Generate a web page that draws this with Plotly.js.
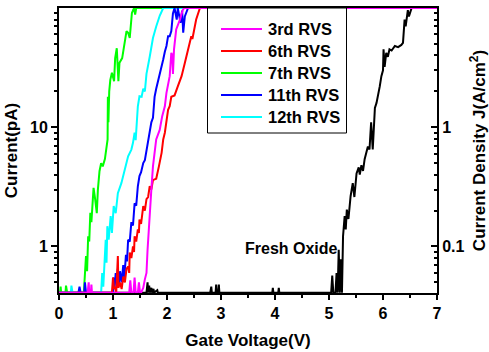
<!DOCTYPE html>
<html>
<head>
<meta charset="utf-8">
<script src="https://cdn.plot.ly/plotly-3.0.1.min.js"></script>
<style>html,body{margin:0;padding:0;background:#fff;}#chart{width:489px;height:352px;}</style>
</head>
<body>
<div id="chart"></div>
<script>
// Gate voltage (V) and current (pA)
const freshX = [0, 1.62, 1.64, 1.65, 1.67, 1.68, 1.71, 1.72, 1.75, 1.76, 1.82, 1.83, 2.80, 2.82, 2.83, 2.90, 2.91, 2.92, 2.95, 2.96, 2.97, 3.95, 3.96, 3.97, 4.06, 4.07, 4.08, 5.04, 5.06, 5.08, 5.12, 5.14, 5.16, 5.18, 5.20, 5.22, 5.24, 5.26, 5.29, 5.31, 5.33, 5.36, 5.40, 5.44, 5.47, 5.51, 5.55, 5.57, 5.60, 5.63, 5.66, 5.72, 5.75, 5.78, 5.81, 5.85, 5.88, 5.91, 5.94, 5.97, 6.00, 6.01, 6.03, 6.06, 6.09, 6.12, 6.16, 6.22, 6.28, 6.34, 6.37, 6.40, 6.42, 6.46, 6.48, 6.53, 7];
const freshY = [0.41, 0.41, 0.50, 0.41, 0.47, 0.41, 0.45, 0.41, 0.44, 0.41, 0.43, 0.41, 0.41, 0.46, 0.41, 0.41, 0.48, 0.41, 0.41, 0.48, 0.41, 0.41, 0.45, 0.41, 0.41, 0.45, 0.41, 0.41, 0.57, 0.41, 0.41, 0.60, 0.41, 0.94, 0.41, 0.78, 0.41, 1.22, 1.8, 1.39, 2.04, 1.7, 2.64, 3.4, 2.6, 4.1, 4.6, 4.0, 4.8, 4.3, 5.4, 6.9, 6.5, 11, 6.5, 14.5, 16, 18.5, 22, 26.8, 30, 45, 32, 42, 39, 45, 44, 48, 47, 49, 51, 80, 70, 96, 85, 100, 100];

const rvs7X = [0, 0.02, 0.03, 0.04, 0.12, 0.13, 0.14, 0.15, 0.46, 0.48, 0.50, 0.52, 0.54, 0.56, 0.58, 0.60, 0.62, 0.64, 0.67, 0.70, 0.72, 0.75, 0.78, 0.81, 0.85, 0.88, 0.90, 0.905, 0.915, 0.93, 0.95, 0.98, 1.02, 1.04, 1.07, 1.10, 1.12, 1.17, 1.22, 1.25, 1.28, 1.31, 1.35, 1.39, 1.41, 1.43, 7];
const rvs7Y = [0.41, 0.41, 0.46, 0.41, 0.41, 0.47, 0.44, 0.41, 0.41, 0.55, 0.83, 0.62, 1.22, 1.1, 1.92, 1.6, 2.64, 3.1, 2.48, 1.9, 3.0, 4.28, 5.0, 4.7, 5.4, 6.7, 7.9, 18, 11, 20, 25, 28.6, 24.3, 38, 46, 24.3, 34.7, 38, 51, 64, 62, 56, 91, 100, 88, 100, 100];

const rvs12X = [0, 0.22, 0.23, 0.24, 0.25, 0.78, 0.80, 0.82, 0.85, 0.865, 0.88, 0.895, 0.92, 0.957, 0.98, 1.013, 1.05, 1.09, 1.155, 1.217, 1.28, 1.34, 1.37, 1.40, 1.42, 1.46, 1.49, 1.53, 1.56, 1.59, 1.62, 1.68, 1.74, 1.80, 1.865, 1.93, 7];
const rvs12Y = [0.41, 0.41, 0.47, 0.44, 0.41, 0.41, 0.6, 0.46, 0.94, 1.14, 0.73, 1.48, 1.14, 1.8, 1.3, 2.18, 1.9, 2.8, 3.4, 4.4, 5.7, 6.5, 7.4, 9.0, 7.8, 15, 18.2, 18, 21, 20, 28, 39, 56, 70, 86, 100, 100];

const rvs11X = [0, 0.36, 0.38, 0.40, 0.47, 0.48, 0.50, 0.98, 1.00, 1.01, 1.03, 1.05, 1.07, 1.09, 1.11, 1.13, 1.16, 1.19, 1.21, 1.24, 1.26, 1.28, 1.31, 1.34, 1.37, 1.40, 1.43, 1.46, 1.49, 1.52, 1.56, 1.59, 1.62, 1.65, 1.68, 1.71, 1.74, 1.77, 1.80, 1.83, 1.87, 1.90, 1.93, 1.96, 1.99, 2.02, 2.05, 2.08, 2.11, 2.14, 2.18, 2.20, 2.25, 2.28, 2.30, 2.33, 2.39, 7];
const rvs11Y = [0.41, 0.41, 0.46, 0.41, 0.41, 0.50, 0.41, 0.41, 0.41, 0.55, 0.45, 0.60, 0.50, 0.65, 0.48, 0.62, 0.50, 0.70, 0.55, 0.85, 0.75, 1.14, 1.1, 1.6, 1.5, 2.3, 2.2, 3.2, 3.9, 4.2, 5.0, 5.3, 6.5, 7.6, 9.8, 11, 12, 18, 21, 24, 27, 31, 37, 43, 48, 58, 58, 64, 90, 100, 80, 100, 75, 95, 62, 85, 100, 100];

const rvs6X = [0, 0.98, 1.00, 1.02, 1.03, 1.06, 1.09, 1.10, 1.13, 1.16, 1.19, 1.22, 1.25, 1.28, 1.30, 1.31, 1.34, 1.37, 1.39, 1.40, 1.43, 1.46, 1.48, 1.49, 1.52, 1.56, 1.59, 1.62, 1.65, 1.68, 1.71, 1.74, 1.77, 1.80, 1.85, 1.90, 1.93, 1.96, 2.02, 2.05, 2.08, 2.14, 2.20, 2.27, 2.33, 2.39, 2.45, 2.47, 2.54, 2.61, 7];
const rvs6Y = [0.41, 0.41, 0.55, 0.44, 0.46, 0.41, 0.83, 0.45, 0.50, 0.44, 0.56, 0.50, 0.65, 0.68, 0.60, 0.89, 0.80, 1.0, 0.9, 1.22, 1.1, 1.39, 1.3, 1.68, 1.55, 2.18, 2.0, 2.5, 2.6, 3.2, 3.0, 3.6, 3.65, 3.7, 4.7, 6.1, 7.9, 9.0, 14, 15, 18, 18.5, 22, 26.8, 34.6, 45, 58, 55, 80, 100, 100];

const rvs3X = [0, 0.53, 0.55, 0.56, 0.59, 0.60, 0.61, 1.30, 1.32, 1.34, 1.38, 1.40, 1.42, 1.46, 1.48, 1.50, 1.52, 1.56, 1.59, 1.62, 1.64, 1.66, 1.68, 1.71, 1.74, 1.77, 1.80, 1.865, 1.91, 1.96, 1.99, 2.05, 2.08, 2.10, 2.11, 2.13, 2.14, 2.17, 2.24, 2.29, 2.32, 7];
const rvs3Y = [0.41, 0.41, 0.50, 0.41, 0.41, 0.48, 0.41, 0.41, 0.52, 0.41, 0.41, 0.55, 0.41, 0.41, 0.50, 0.41, 0.41, 0.45, 0.53, 0.60, 0.94, 1.39, 2.0, 3.0, 4.7, 6.1, 7.9, 9.5, 12.3, 15, 19.4, 26.8, 42, 40, 28, 45, 51, 66, 80, 96, 100, 100];

const seriesNames = ['3rd RVS', '6th RVS', '7th RVS', '11th RVS', '12th RVS'];
const seriesColors = ['#ff00ff', '#ff0000', '#00ff00', '#0000ff', '#00ffff'];
const xTickVals = [0, 1, 2, 3, 4, 5, 6, 7];
const xMinorVals = [0.5, 1.5, 2.5, 3.5, 4.5, 5.5, 6.5];
const yTickVals = [1, 10];
const yMinorVals = [0.4, 0.5, 0.6, 0.7, 0.8, 0.9, 2, 3, 4, 5, 6, 7, 8, 9, 20, 30, 40, 50, 60, 70, 80, 90];
const y2TickVals = [0.1, 1];
const y2MinorVals = [0.04, 0.05, 0.06, 0.07, 0.08, 0.09, 0.2, 0.3, 0.4, 0.5, 0.6, 0.7, 0.8, 0.9, 2, 3, 4, 5, 6, 7, 8, 9];

const FONT = 'Liberation Sans, Arial, sans-serif';
const lw = 2;

const W = 489, H = 352, ML = 59, MR = 52, MT = 8, MB = 59;
const PW = W - ML - MR, PH = H - MT - MB;
const px2x = p => (p - ML) / PW;
const py2y = p => (H - MB - p) / PH;

function tr(x, y, idx) {
  return {x: x, y: y, type: 'scatter', mode: 'lines', name: seriesNames[idx],
    line: {color: seriesColors[idx], width: lw}, showlegend: false, hoverinfo: 'skip'};
}

const traces = [
  {x: freshX, y: freshY, type: 'scatter', mode: 'lines', line: {color: '#000', width: lw}, showlegend: false, hoverinfo: 'skip'},
  tr(rvs7X, rvs7Y, 2),
  tr(rvs12X, rvs12Y, 4),
  tr(rvs11X, rvs11Y, 3),
  tr(rvs6X, rvs6Y, 1),
  tr(rvs3X, rvs3Y, 0),
  {x: [0], y: [0.1], yaxis: 'y2', type: 'scatter', mode: 'lines', showlegend: false, hoverinfo: 'skip', line: {width: 0}}
];

// Legend drawn as a box, line samples and labels
const shapes = [{type: 'rect', xref: 'paper', yref: 'paper', x0: px2x(207.5), x1: px2x(346.5), y0: py2y(133), y1: py2y(8),
  line: {color: '#000', width: 1}, fillcolor: '#fff', layer: 'above'}];
const annotations = [];
seriesNames.forEach((nm, i) => {
  const rowY = py2y(29 + 22 * i);
  shapes.push({type: 'line', xref: 'paper', yref: 'paper', x0: px2x(221), x1: px2x(262), y0: rowY, y1: rowY,
    line: {color: seriesColors[i], width: 2}, layer: 'above'});
  annotations.push({xref: 'paper', yref: 'paper', x: px2x(265.5), y: rowY, text: nm, showarrow: false,
    xanchor: 'left', yanchor: 'middle', font: {family: FONT, size: 16.5, weight: 'bold', color: '#000'}});
});
annotations.push({x: 3.40, y: -0.02, xref: 'x', yref: 'y', text: 'Fresh Oxide', showarrow: false, xanchor: 'left', yanchor: 'middle',
  font: {family: FONT, size: 16, weight: 'bold', color: '#000'}});

const tickFont = {family: FONT, size: 16, weight: 'bold', color: '#000'};
const titleFont = {family: FONT, size: 17, weight: 'bold', color: '#000'};

const layout = {
  width: W, height: H,
  margin: {l: ML, r: MR, t: MT, b: MB},
  paper_bgcolor: '#fff', plot_bgcolor: '#fff',
  showlegend: false,
  xaxis: {range: [0, 7], tickvals: xTickVals, ticks: 'outside', ticklen: 5, tickwidth: 2, tickcolor: '#000',
    showline: true, linewidth: 2, linecolor: '#000', mirror: true, showgrid: false, zeroline: false,
    tickfont: tickFont,
    minor: {tickvals: xMinorVals, ticks: 'outside', ticklen: 3, tickwidth: 2, tickcolor: '#000', showgrid: false},
    title: {text: 'Gate Voltage(V)', font: titleFont, standoff: 13}},
  yaxis: {type: 'log', range: [-0.39, 2], tickvals: yTickVals, ticks: 'outside', ticklen: 6, tickwidth: 2, tickcolor: '#000',
    showline: true, linewidth: 2, linecolor: '#000', showgrid: false, zeroline: false, tickfont: tickFont,
    minor: {tickvals: yMinorVals, ticks: 'outside', ticklen: 3, tickwidth: 2, tickcolor: '#000', showgrid: false},
    title: {text: 'Current(pA)', font: titleFont, standoff: 8}},
  yaxis2: {type: 'log', range: [-1.39, 1], overlaying: 'y', side: 'right', tickvals: y2TickVals,
    ticks: 'inside', ticklen: 6, tickwidth: 2, tickcolor: '#000',
    showline: true, linewidth: 2, linecolor: '#000', showgrid: false, zeroline: false, tickfont: tickFont,
    minor: {tickvals: y2MinorVals, ticks: 'inside', ticklen: 3, tickwidth: 2, tickcolor: '#000', showgrid: false},
    title: {text: 'Current Density J(A/cm<sup>2</sup>)', font: titleFont, standoff: 12}},
  shapes: shapes,
  annotations: annotations
};

Plotly.newPlot('chart', traces, layout, {displayModeBar: false, staticPlot: true});
</script>
</body>
</html>
